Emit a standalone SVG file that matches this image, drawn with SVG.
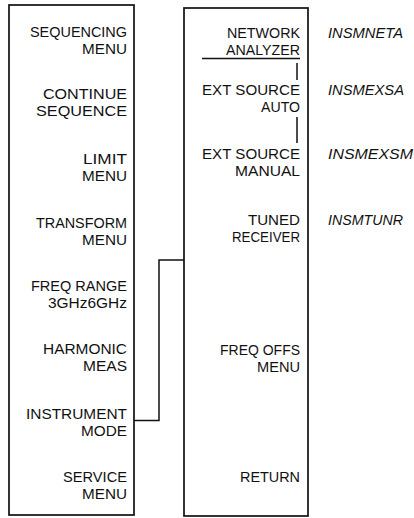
<svg xmlns="http://www.w3.org/2000/svg" width="414" height="518" viewBox="0 0 414 518">
<style>
.box{fill:none;stroke:#111;stroke-width:1.7}
.ln{fill:none;stroke:#111;stroke-width:1.5}
.k{font-family:"Liberation Sans",Arial,sans-serif;font-size:14.8px;fill:#111;text-anchor:end}
.m{font-family:"Liberation Sans",Arial,sans-serif;font-size:14.8px;font-style:italic;fill:#111}
</style>
<rect width="414" height="518" fill="#fff"/>
<g id="menu-left">
<rect class="box" x="9" y="5" width="125" height="510"/>
<g id="k-sequencing"><text class="k"><tspan x="127" y="36.5" textLength="97" lengthAdjust="spacingAndGlyphs">SEQUENCING</tspan><tspan x="127" y="53.5" textLength="45" lengthAdjust="spacingAndGlyphs">MENU</tspan></text></g>
<g id="k-continue"><text class="k"><tspan x="127" y="99" textLength="84" lengthAdjust="spacingAndGlyphs">CONTINUE</tspan><tspan x="127" y="116" textLength="91" lengthAdjust="spacingAndGlyphs">SEQUENCE</tspan></text></g>
<g id="k-limit"><text class="k"><tspan x="127" y="163.5" textLength="44" lengthAdjust="spacingAndGlyphs">LIMIT</tspan><tspan x="127" y="180.5" textLength="45" lengthAdjust="spacingAndGlyphs">MENU</tspan></text></g>
<g id="k-transform"><text class="k"><tspan x="127" y="228" textLength="91" lengthAdjust="spacingAndGlyphs">TRANSFORM</tspan><tspan x="127" y="245" textLength="45" lengthAdjust="spacingAndGlyphs">MENU</tspan></text></g>
<g id="k-freqrange"><text class="k"><tspan x="127" y="290.5" textLength="96" lengthAdjust="spacingAndGlyphs">FREQ RANGE</tspan><tspan x="127" y="307.5" textLength="79" lengthAdjust="spacingAndGlyphs">3GHz6GHz</tspan></text></g>
<g id="k-harmonic"><text class="k"><tspan x="127" y="354" textLength="84" lengthAdjust="spacingAndGlyphs">HARMONIC</tspan><tspan x="127" y="371" textLength="44" lengthAdjust="spacingAndGlyphs">MEAS</tspan></text></g>
<g id="k-instrument"><text class="k"><tspan x="127" y="418.5" textLength="101" lengthAdjust="spacingAndGlyphs">INSTRUMENT</tspan><tspan x="127" y="435.5" textLength="46" lengthAdjust="spacingAndGlyphs">MODE</tspan></text></g>
<g id="k-service"><text class="k"><tspan x="127" y="481.5" textLength="64" lengthAdjust="spacingAndGlyphs">SERVICE</tspan><tspan x="127" y="498.5" textLength="45" lengthAdjust="spacingAndGlyphs">MENU</tspan></text></g>
</g>
<g id="menu-right">
<rect class="box" x="184" y="8" width="124" height="508"/>
<g id="k-network"><text class="k"><tspan x="300" y="37.5" textLength="73" lengthAdjust="spacingAndGlyphs">NETWORK</tspan><tspan x="300" y="54.5" textLength="74" lengthAdjust="spacingAndGlyphs">ANALYZER</tspan></text><text class="m" x="328" y="37.5" textLength="75" lengthAdjust="spacingAndGlyphs">INSMNETA</text></g>
<g id="k-extauto"><text class="k"><tspan x="300" y="95" textLength="98" lengthAdjust="spacingAndGlyphs">EXT SOURCE</tspan><tspan x="300" y="112" textLength="39" lengthAdjust="spacingAndGlyphs">AUTO</tspan></text><text class="m" x="328" y="95" textLength="76" lengthAdjust="spacingAndGlyphs">INSMEXSA</text></g>
<g id="k-extmanual"><text class="k"><tspan x="300" y="158.5" textLength="98" lengthAdjust="spacingAndGlyphs">EXT SOURCE</tspan><tspan x="300" y="175.5" textLength="65" lengthAdjust="spacingAndGlyphs">MANUAL</tspan></text><text class="m" x="328" y="158.5" textLength="85" lengthAdjust="spacingAndGlyphs">INSMEXSM</text></g>
<g id="k-tuned"><text class="k"><tspan x="300" y="225" textLength="52" lengthAdjust="spacingAndGlyphs">TUNED</tspan><tspan x="300" y="242" textLength="68" lengthAdjust="spacingAndGlyphs">RECEIVER</tspan></text><text class="m" x="328" y="225" textLength="75" lengthAdjust="spacingAndGlyphs">INSMTUNR</text></g>
<g id="k-freqoffs"><text class="k"><tspan x="300" y="355" textLength="80" lengthAdjust="spacingAndGlyphs">FREQ OFFS</tspan><tspan x="300" y="372" textLength="43" lengthAdjust="spacingAndGlyphs">MENU</tspan></text></g>
<g id="k-return"><text class="k" x="300" y="482" textLength="60" lengthAdjust="spacingAndGlyphs">RETURN</text></g>
</g>
<g id="connectors">
<polyline class="ln" points="134,420.5 159,420.5 159,260 184,260"/>
<line class="ln" x1="202" y1="58.5" x2="300" y2="58.5"/>
<line class="ln" x1="297" y1="63" x2="297" y2="80"/>
<line class="ln" x1="297" y1="117" x2="297" y2="143"/>
</g>
</svg>
